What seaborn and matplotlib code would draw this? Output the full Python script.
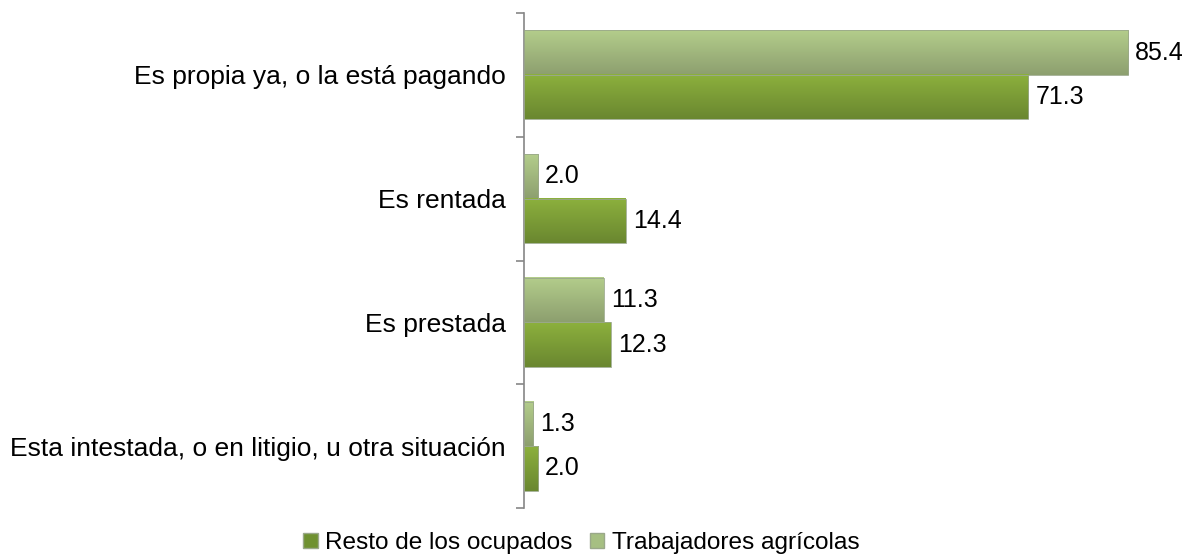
import numpy as np
import pandas as pd
import matplotlib
matplotlib.use("Agg")
import matplotlib.pyplot as plt
import seaborn as sns
from matplotlib.colors import LinearSegmentedColormap
from matplotlib.patches import Patch

# Data
categorias = ["Es propia ya, o la está pagando",
              "Es rentada",
              "Es prestada",
              "Esta intestada, o en litigio, u otra situación"]
trabajadores_agricolas = [85.4, 2.0, 11.3, 1.3]
resto_ocupados = [71.3, 14.4, 12.3, 2.0]
series = ["Trabajadores agrícolas", "Resto de los ocupados"]

df = pd.DataFrame({
    "categoria": categorias * 2,
    "serie": [series[0]] * 4 + [series[1]] * 4,
    "valor": trabajadores_agricolas + resto_ocupados,
})

sns.set_style("white")
plt.rcParams["font.family"] = ["Liberation Sans", "DejaVu Sans"]
plt.rcParams["text.color"] = "black"
plt.rcParams["ytick.labelcolor"] = "black"

fig = plt.figure(figsize=(11.86, 5.54), dpi=100)
ax = fig.add_axes([0.4418, 0.083, 0.5582, 0.8935])

colors = {series[0]: "#a3bd7e", series[1]: "#7a9e35"}
sns.barplot(data=df, y="categoria", x="valor", hue="serie", hue_order=series,
            order=categorias, orient="h", palette=colors, width=0.72,
            legend=False, ax=ax)

# gradient fills (light on top -> darker at bottom)
grads = {
    series[0]: LinearSegmentedColormap.from_list("g0", ["#b3cd8b", "#8d9f6f"]),
    series[1]: LinearSegmentedColormap.from_list("g1", ["#8cb03d", "#6a8730"]),
}
for cont, name in zip(ax.containers, series):
    for patch, val in zip(cont.patches, cont.datavalues):
        x0, y0 = patch.get_x(), patch.get_y()
        w, h = patch.get_width(), patch.get_height()
        grad = np.linspace(0, 1, 64).reshape(-1, 1)
        ax.imshow(grad, cmap=grads[name], aspect="auto",
                  extent=(x0, x0 + w, y0 + h, y0), origin="upper", zorder=2)
        patch.set_facecolor("none")
        patch.set_edgecolor("#9aa88a")
        patch.set_linewidth(0.6)
        patch.set_zorder(3)
        ax.text(x0 + w + 1.0, y0 + h / 2, f"{val:.1f}", va="center", ha="left",
                fontsize=18, color="black")
ax.set_xlim(0, 93.6)
ax.set_ylim(3.5, -0.5)

ax.set_xlabel("")
ax.set_ylabel("")
ax.set_xticks([])
ax.tick_params(axis="y", which="major", left=False, length=0, labelsize=19,
               pad=13, labelcolor="black")
ax.set_yticks([-0.5, 0.5, 1.5, 2.5, 3.5], minor=True)
ax.tick_params(axis="y", which="minor", left=True, length=6, width=1.2,
               color="#868686", direction="out")
for s in ["top", "right", "bottom"]:
    ax.spines[s].set_visible(False)
ax.spines["left"].set_color("#868686")
ax.spines["left"].set_linewidth(1.2)

handles = [Patch(facecolor="#6f9130", edgecolor="#9aa88a", label=series[1]),
           Patch(facecolor="#a6bf82", edgecolor="#9aa88a", label=series[0])]
leg = fig.legend(handles=handles, loc="center", bbox_to_anchor=(0.49, 0.02), ncol=2,
                 frameon=False, fontsize=17.6, handlelength=0.6, handleheight=0.6,
                 handletextpad=0.3, columnspacing=0.7, borderpad=0)
for t in leg.get_texts():
    t.set_color("black")

fig.savefig("out.png", dpi=100)
